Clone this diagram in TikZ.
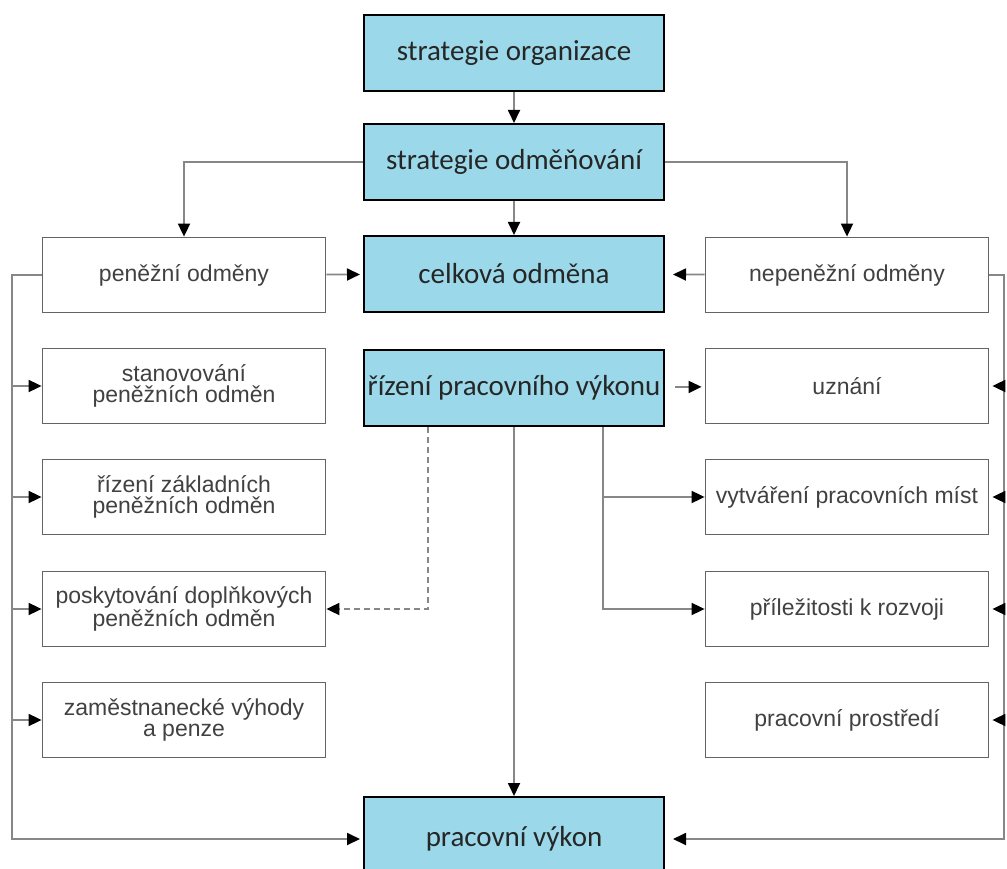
\documentclass[tikz,border=0pt]{standalone}
\usepackage{fontspec}
\setmainfont{Liberation Sans}
\newfontfamily\calibri{Carlito}
\usetikzlibrary{arrows.meta}
\definecolor{boxblue}{RGB}{155,217,234}
\definecolor{boxgrey}{RGB}{100,100,100}
\definecolor{linegrey}{RGB}{135,135,135}
\definecolor{textgrey}{RGB}{65,65,65}
\begin{document}
\begin{tikzpicture}[x=1pt,y=-1pt,
	bluebox/.style={draw=black,line width=2pt,fill=boxblue,minimum width=300pt,minimum height=76pt,inner sep=1pt,font=\calibri\fontsize{29}{32}\selectfont,text=black!85},
	greybox/.style={draw=boxgrey,line width=1.8pt,fill=white,minimum width=283pt,minimum height=75pt,align=center,font=\fontsize{23}{21}\selectfont,text=textgrey},
	conn/.style={draw=linegrey,line width=1.8pt,-{Triangle[length=13pt,width=12pt,color=black]}}]
		\useasboundingbox (0,0) rectangle (1007,869);
		\node[bluebox] (org) at (514,53) {strategie organizace};
		\node[bluebox] (odm) at (514,162) {strategie odměňování};
		\node[bluebox] (celk) at (514,274) {celková odměna};
		\node[bluebox] (rizeni) at (514,388) {řízení pracovního výkonu};
		\node[bluebox,minimum height=84pt] (vykon) at (514,839) {pracovní výkon};
		\node[greybox] (pen) at (184,275) {peněžní odměny};
		\node[greybox] (stan) at (184,386) {stanovování\\peněžních odměn};
		\node[greybox] (zakl) at (184,497) {řízení základních\\peněžních odměn};
		\node[greybox] (dopl) at (184,609) {poskytování doplňkových\\peněžních odměn};
		\node[greybox] (vyh) at (184,720) {zaměstnanecké výhody\\a penze};
		\node[greybox] (nepen) at (847,275) {nepeněžní odměny};
		\node[greybox] (uzn) at (847,386) {uznání};
		\node[greybox] (mist) at (847,497) {vytváření pracovních míst};
		\node[greybox] (rozv) at (847,609) {příležitosti k rozvoji};
		\node[greybox] (prostr) at (847,720) {pracovní prostředí};
		\coordinate (lt) at (12,275);
		\coordinate (rt) at (1004,275);
		\coordinate (rsplit) at ([xshift=89pt]rizeni.south);
		\coordinate (dsplit) at ([xshift=-86pt]rizeni.south);
		\draw[conn] (org) -- (odm);
		\draw[conn] (odm) -- (celk);
		\draw[conn] (odm.west) -| (pen.north);
		\draw[conn] (odm.east) -| (nepen.north);
		\draw[conn,shorten >=3pt] (pen) -- (celk);
		\draw[conn,shorten >=8pt] (nepen) -- (celk);
		\draw[conn,shorten >=3pt] (pen.west) -- (lt) |- (vykon.west);
		\foreach \b in {stan,zakl,dopl,vyh}
			\draw[conn] (lt |- \b.west) -- (\b.west);
		\draw[conn,shorten >=8pt] (nepen.east) -- (rt) |- (vykon.east);
		\foreach \b in {uzn,mist,rozv,prostr}
			\draw[conn,shorten >=3pt] (rt |- \b.east) -- (\b.east);
		\draw[conn,shorten <=10pt,shorten >=3pt] (rizeni) -- (uzn);
		\draw[conn] (rizeni) -- (vykon);
		\draw[conn] (rsplit) |- (rozv.west);
		\draw[conn] (rsplit |- mist.west) -- (mist.west);
		\draw[conn,dash pattern=on 6pt off 4pt] (dsplit) |- (dopl.east);
	\end{tikzpicture}
\end{document}
